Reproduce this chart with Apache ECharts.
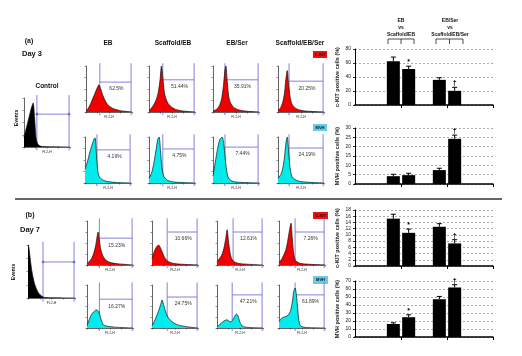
<!DOCTYPE html>
<html><head><meta charset="utf-8">
<script src="https://cdn.jsdelivr.net/npm/echarts@6/dist/echarts.min.js"></script>
<style>html,body{margin:0;padding:0;background:#fff}#c{width:522px;height:356px}</style>
</head><body><div id="c"></div>
<script>
// ---------- DATA ----------
const groups = ['EB', 'Scaffold/EB', 'EB/Ser', 'Scaffold/EB/Ser'];

const ckitDay3 = [62.5, 51.44, 35.91, 20.25];
const ckitDay3Err = [6, 4, 3, 5];
const ckitDay3Sig = ['', '*', '', '†'];
const ckitDay3Ticks = [0, 20, 40, 60, 80];

const mvhDay3 = [4.19, 4.75, 7.44, 24.19];
const mvhDay3Err = [1, 1, 1, 2];
const mvhDay3Sig = ['', '', '', '†'];
const mvhDay3Ticks = [0, 5, 10, 15, 20, 25, 30];

const ckitDay7 = [15.23, 10.66, 12.61, 7.26];
const ckitDay7Err = [1.4, 1.2, 1.0, 1.2];
const ckitDay7Sig = ['', '*', '', '†'];
const ckitDay7Ticks = [0, 2, 4, 6, 8, 10, 12, 14, 16, 18];

const mvhDay7 = [16.27, 24.75, 47.21, 61.89];
const mvhDay7Err = [1.5, 3, 3.5, 3.5];
const mvhDay7Sig = ['', '*', '', '†'];
const mvhDay7Ticks = [0, 10, 20, 30, 40, 50, 60, 70];

const pctCkitDay3 = ['62.5%', '51.44%', '35.91%', '20.25%'];
const pctMvhDay3 = ['4.19%', '4.75%', '7.44%', '24.19%'];
const pctCkitDay7 = ['15.23%', '10.66%', '12.61%', '7.26%'];
const pctMvhDay7 = ['16.27%', '24.75%', '47.21%', '61.89%'];

// flow histograms [channel %, events %]
const histCkitDay3 = [
 [[0,2],[5,8],[10,18],[15,30],[20,42],[25,54],[28,59],[32,50],[36,38],[40,28],[45,19],[50,13],[60,7],[70,4],[80,2],[90,1],[100,0]],
 [[0,3],[5,8],[10,15],[15,25],[20,42],[24,70],[27,100],[30,75],[33,45],[37,28],[42,18],[50,10],[60,5],[75,2],[100,0]],
 [[0,2],[8,6],[14,14],[19,30],[23,60],[26,92],[28,100],[31,65],[34,35],[38,20],[45,10],[55,5],[70,2],[100,0]],
 [[0,3],[6,10],[10,20],[14,40],[17,70],[20,90],[23,60],[26,35],[30,18],[36,10],[45,5],[60,2],[100,0]]
];
const histMvhDay3 = [
 [[0,30],[5,45],[10,65],[16,85],[20,96],[22,98],[25,60],[28,25],[32,12],[40,6],[50,3],[70,1],[100,0]],
 [[0,10],[5,20],[10,40],[15,70],[19,95],[22,100],[25,70],[28,35],[32,15],[40,6],[55,2],[100,0]],
 [[0,15],[5,45],[10,75],[15,95],[20,100],[24,80],[28,40],[32,15],[38,6],[50,2],[100,0]],
 [[0,10],[6,18],[10,30],[14,55],[17,85],[20,100],[23,70],[26,35],[30,15],[36,8],[45,4],[60,2],[100,0]]
];
const histCkitDay7 = [
 [[0,3],[5,8],[10,15],[15,28],[19,45],[22,65],[24,75],[27,55],[30,35],[34,22],[40,12],[50,6],[65,3],[100,0]],
 [[0,15],[4,28],[8,38],[12,44],[15,45],[18,40],[22,30],[26,20],[30,13],[35,8],[45,4],[60,2],[100,0]],
 [[0,8],[5,14],[10,22],[15,38],[19,60],[22,80],[25,55],[28,30],[32,14],[38,7],[50,3],[100,0]],
 [[0,6],[5,12],[10,22],[15,35],[19,55],[23,80],[26,95],[29,60],[32,25],[36,10],[45,4],[60,2],[100,0]]
];
const histMvhDay7 = [
 [[0,5],[5,20],[10,32],[15,38],[20,42],[24,40],[28,30],[32,15],[36,7],[45,4],[60,2],[100,0]],
 [[0,5],[5,15],[10,28],[15,42],[19,55],[22,65],[25,55],[29,40],[33,28],[40,18],[50,10],[60,6],[75,3],[100,0]],
 [[0,3],[6,8],[12,14],[18,18],[22,19],[26,16],[30,14],[34,18],[38,26],[42,32],[45,30],[48,20],[52,8],[58,3],[70,1],[100,0]],
 [[0,15],[5,22],[10,25],[15,27],[20,30],[25,40],[29,60],[32,85],[35,93],[38,75],[41,40],[44,12],[48,4],[60,1],[100,0]]
];
const histControlDay3 = [[0,20],[4,35],[8,50],[12,65],[16,80],[20,90],[23,60],[26,20],[29,8],[33,3],[40,1],[100,0]];
const histControlDay7 = [[0,100],[2,95],[4,80],[6,65],[8,52],[11,38],[14,27],[18,17],[22,10],[26,6],[30,3],[36,1],[100,0]];

// gates [lower bound channel, marker height]
const gatesCkitDay3 = [[30,65],[30,70],[26,70],[24,67]];
const gatesMvhDay3 = [[26,72],[30,74],[26,78],[24,76]];
const gatesCkitDay7 = [[27,61],[33,75],[35,75],[35,75]];
const gatesMvhDay7 = [[27,67],[33,72],[33,77],[35,77]];
const gateControlDay3 = [28,67];
const gateControlDay7 = [32,68];
const gateUpper = 98;

// ---------- LAYOUT ----------
const FONT = '"Liberation Sans", Arial, sans-serif';
const RED = '#f00000', CYAN = '#00ecec', BLACK = '#000';
const grids = [], xAxes = [], yAxes = [], series = [];

const slots = ['p0', 'p1', groups[0], groups[1], 'p4', groups[2], groups[3], 'p7', 'p8'];
const barDefs = [
  {v: ckitDay3, e: ckitDay3Err, s: ckitDay3Sig, t: ckitDay3Ticks, name: 'c-KIT positive cells (%)', top: 49},
  {v: mvhDay3, e: mvhDay3Err, s: mvhDay3Sig, t: mvhDay3Ticks, name: 'MVH positive cells (%)', top: 128},
  {v: ckitDay7, e: ckitDay7Err, s: ckitDay7Sig, t: ckitDay7Ticks, name: 'c-KIT positive cells (%)', top: 210},
  {v: mvhDay7, e: mvhDay7Err, s: mvhDay7Sig, t: mvhDay7Ticks, name: 'MVH positive cells (%)', top: 281}
];
barDefs.forEach((b, k) => {
  const gi = grids.length;
  grids.push({left: 355, top: b.top, width: 138, height: 56, outerBoundsMode: 'none'});
  xAxes.push({gridIndex: gi, type: 'category', data: slots, boundaryGap: true,
    axisLine: {lineStyle: {color: '#000', width: 1.5}},
    axisTick: {show: true, length: 3, interval: (i) => i === 3 || i === 6, lineStyle: {color: '#000', width: 1}},
    axisLabel: {show: false}, splitLine: {show: false}});
  const tk = b.t;
  yAxes.push({gridIndex: gi, type: 'value', min: tk[0], max: tk[tk.length - 1], interval: tk[1] - tk[0],
    axisLine: {show: true, lineStyle: {color: '#000', width: 1}},
    axisTick: {show: true, length: 2, lineStyle: {color: '#000', width: 0.8}},
    axisLabel: {fontSize: 5, color: '#222', margin: 4, fontFamily: FONT},
    splitLine: {show: true, lineStyle: {color: '#888', type: [2, 2], width: 0.7}},
    name: b.name, nameLocation: 'middle', nameRotate: 90, nameGap: 15,
    nameTextStyle: {fontSize: 5.5, color: '#222', fontFamily: FONT, fontWeight: 'bold'}});
  series.push({type: 'bar', xAxisIndex: gi, yAxisIndex: gi, barWidth: 13,
    itemStyle: {color: '#000'}, silent: true,
    data: slots.map(s => { const i = groups.indexOf(s); return i >= 0 ? b.v[i] : '-'; })});
  series.push({type: 'custom', xAxisIndex: gi, yAxisIndex: gi, silent: true,
    data: groups.map((g, i) => [slots.indexOf(g), b.v[i], b.e[i]]),
    renderItem: (params, api) => {
      const x = api.value(0), v = api.value(1), e = api.value(2);
      const p0 = api.coord([x, v]), p1 = api.coord([x, v + e]);
      const sig = b.s[params.dataIndex];
      const ch = [
        {type: 'line', shape: {x1: p0[0], y1: p0[1], x2: p1[0], y2: p1[1]}, style: {stroke: '#000', lineWidth: 1}},
        {type: 'line', shape: {x1: p1[0] - 2.5, y1: p1[1], x2: p1[0] + 2.5, y2: p1[1]}, style: {stroke: '#000', lineWidth: 1}}
      ];
      if (sig) ch.push({type: 'text', style: {text: sig, x: p1[0], y: p1[1] - 0.5, fill: '#000',
        font: 'bold 7px ' + FONT, align: 'center', verticalAlign: 'bottom', textAlign: 'center', textVerticalAlign: 'bottom'}});
      return {type: 'group', children: ch};
    }});
});

function addHist(rect, data, fill, gate, pct, dots) {
  const gi = grids.length;
  grids.push({left: rect[0], top: rect[1], width: rect[2], height: rect[3], outerBoundsMode: 'none'});
  xAxes.push({gridIndex: gi, type: 'value', min: 0, max: 100, interval: 25,
    axisLine: {lineStyle: {color: '#222', width: 0.7}},
    axisTick: {show: true, length: 1.5, lineStyle: {color: '#222', width: 0.5}},
    axisLabel: {show: false}, splitLine: {show: false},
    name: 'FL2-H', nameLocation: 'middle', nameGap: 3.5,
    nameTextStyle: {fontSize: 3.5, color: '#333', fontFamily: FONT}});
  yAxes.push({gridIndex: gi, type: 'value', min: 0, max: 100, interval: 25,
    axisLine: {show: true, lineStyle: {color: '#222', width: 0.7}},
    axisTick: {show: true, length: 1.5, lineStyle: {color: '#222', width: 0.5}},
    axisLabel: {show: false}, splitLine: {show: false}});
  series.push({type: 'line', xAxisIndex: gi, yAxisIndex: gi, data: data, symbol: 'none', smooth: 0.25,
    silent: true, lineStyle: {color: '#111', width: 0.7}, areaStyle: {color: fill, opacity: 1}});
  series.push({type: 'custom', xAxisIndex: gi, yAxisIndex: gi, silent: true, data: [[gate[0], gate[1], gateUpper]],
    renderItem: (params, api) => {
      const gx = api.value(0), gy = api.value(1), gu = api.value(2);
      const xL = api.coord([gx, 0])[0], xR = api.coord([gu, 0])[0];
      const yT = api.coord([0, 106])[1], yB = api.coord([0, -7])[1], yH = api.coord([0, gy])[1];
      const st = {stroke: '#7474dc', lineWidth: 0.9};
      const ch = [
        {type: 'line', shape: {x1: xL, y1: yT, x2: xL, y2: yB}, style: st},
        {type: 'line', shape: {x1: xR, y1: yT, x2: xR, y2: yB}, style: st},
        {type: 'line', shape: {x1: xL, y1: yH, x2: xR, y2: yH}, style: st}
      ];
      if (pct) ch.push({type: 'text', style: {text: pct, x: (xL + xR) / 2 + 1, y: yH + 7, fill: '#333',
        font: '5px ' + FONT, align: 'center', verticalAlign: 'middle', textAlign: 'center', textVerticalAlign: 'middle'}});
      if (dots) { ch.push({type: 'circle', shape: {cx: xL, cy: yH, r: 1.3}, style: {fill: '#6666dd'}});
                  ch.push({type: 'circle', shape: {cx: xR, cy: yH, r: 1.3}, style: {fill: '#6666dd'}}); }
      return {type: 'group', children: ch};
    }});
}

const rowA1 = {top: 66, h: 46, lefts: [86, 149, 213, 278], w: 46};
const rowA2 = {top: 137, h: 46, lefts: [85, 149, 213, 278], w: 46};
const rowB1 = {top: 221, h: 44, lefts: [87, 152, 217, 279], w: 46};
const rowB2 = {top: 285, h: 43, lefts: [87, 152, 217, 279], w: 46};
[[rowA1, histCkitDay3, RED, gatesCkitDay3, pctCkitDay3],
 [rowA2, histMvhDay3, CYAN, gatesMvhDay3, pctMvhDay3],
 [rowB1, histCkitDay7, RED, gatesCkitDay7, pctCkitDay7],
 [rowB2, histMvhDay7, CYAN, gatesMvhDay7, pctMvhDay7]].forEach(([r, hd, col, gt, pc]) => {
  r.lefts.forEach((l, i) => addHist([l, r.top, r.w, r.h], hd[i], col, gt[i], pc[i], false));
});
addHist([24, 98, 46, 49], histControlDay3, BLACK, gateControlDay3, '', true);
addHist([28, 245, 47, 53], histControlDay7, BLACK, gateControlDay7, '', true);

// ---------- ANNOTATIONS ----------
function txt(x, y, t, size, bold, rot) {
  return {type: 'text', x: x, y: y, rotation: rot || 0, silent: true,
    style: {text: t, font: (bold ? 'bold ' : '') + size + 'px ' + FONT, fill: '#111',
      align: 'center', verticalAlign: 'middle', textAlign: 'center', textVerticalAlign: 'middle'}};
}
function box(x, y, w, h, col, t) {
  return [{type: 'rect', shape: {x: x, y: y, width: w, height: h}, style: {fill: col}, silent: true},
          txt(x + w / 2, y + h / 2, t, 4, true)];
}
function bracket(x1, x2, y) {
  const m = (x1 + x2) / 2;
  return [{type: 'polyline', shape: {points: [[x1, y + 5], [x1, y], [x2, y], [x2, y + 5]]}, style: {stroke: '#222', lineWidth: 0.8, fill: null}, silent: true},
          {type: 'line', shape: {x1: m, y1: y, x2: m, y2: y + 5}, style: {stroke: '#222', lineWidth: 0.8}, silent: true}];
}
const graphics = [
  txt(29, 41, '(a)', 7, true), txt(32, 54, 'Day 3', 7.5, true),
  txt(30, 215, '(b)', 7, true), txt(30, 230, 'Day 7', 7.5, true),
  txt(108, 43, groups[0], 6.5, true), txt(173, 43, groups[1], 6.5, true),
  txt(237, 43, groups[2], 6.5, true), txt(300, 43, groups[3], 6.5, true),
  txt(47, 86, 'Control', 6.5, true),
  txt(17, 118, 'Events', 5, true, Math.PI / 2), txt(14, 272, 'Events', 5, true, Math.PI / 2),
  ...box(313, 51, 14, 7, '#ee1111', 'C-KIT'), ...box(313, 124, 14, 7, '#66ccee', 'MVH'),
  ...box(313, 212, 15, 7, '#ee1111', 'C-KIT'), ...box(313, 276, 15, 8, '#66ccee', 'MVH'),
  {type: 'line', shape: {x1: 15, y1: 199, x2: 502, y2: 199}, style: {stroke: '#333', lineWidth: 1.5}, silent: true},
  txt(401, 21, 'EB', 5, true), txt(401, 28, 'vs', 5, true), txt(401, 35, 'Scaffold/EB', 5, true),
  txt(450, 21, 'EB/Ser', 5, true), txt(450, 28, 'vs', 5, true), txt(450, 35, 'Scaffold/EB/Ser', 5, true),
  ...bracket(388, 414, 39), ...bracket(436, 463, 39)
];

const chart = echarts.init(document.getElementById('c'), null, {renderer: 'canvas', width: 522, height: 356});
chart.setOption({
  backgroundColor: '#fff', animation: false,
  textStyle: {fontFamily: FONT},
  grid: grids, xAxis: xAxes, yAxis: yAxes, series: series, graphic: graphics
});
</script></body></html>
